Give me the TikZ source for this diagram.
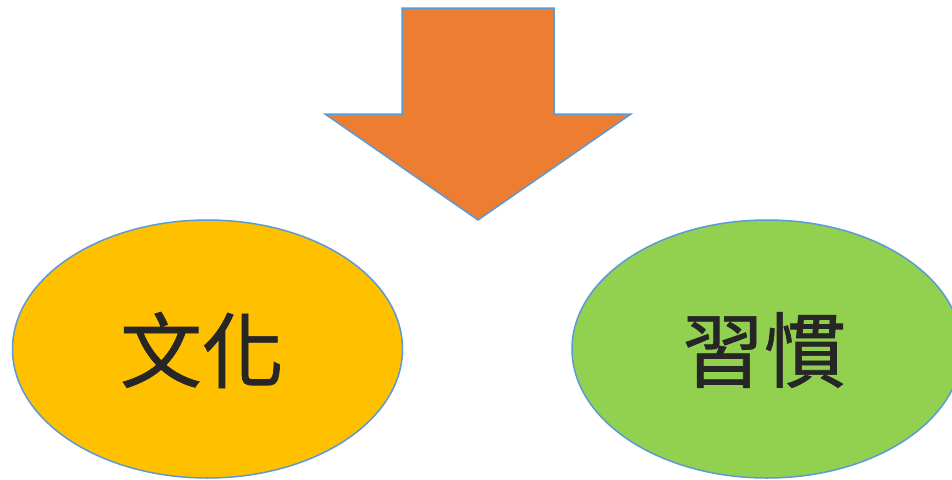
\documentclass[tikz,border=0pt]{standalone}
\usepackage{fontspec}
\newfontfamily\cjk[FakeBold=0.8]{Noto Sans CJK TC}
\usetikzlibrary{shapes.geometric}
\definecolor{arroworange}{HTML}{ED7D31}
\definecolor{edgeblue}{HTML}{5B9BD5}
\definecolor{culturegold}{HTML}{FFC000}
\definecolor{habitgreen}{HTML}{92D050}
\definecolor{textdark}{HTML}{262626}
\tikzset{
  bubble/.style={ellipse, draw=edgeblue, line width=1.5pt, minimum width=390pt, minimum height=258pt, inner sep=0pt},
  bubbletext/.style={text=textdark, font=\cjk\fontsize{82}{82}\selectfont, inner sep=0pt},
  bigarrow/.style={fill=arroworange, draw=edgeblue, line width=1.5pt, line join=miter}
}
\begin{document}
\begin{tikzpicture}[x=1pt,y=-1pt]
\path[use as bounding box, clip] (0,0) rectangle (952,479);
\fill[white] (0,0) rectangle (952,479);
\draw[bigarrow] (402,8) -- (554,8) -- (554,114) -- (631,114) -- (478,220) -- (325,114) -- (402,114) -- cycle;
\node[bubble, fill=culturegold] (culture) at (207.5,349) {};
\node[bubbletext] (culturetext) at (202,350) {文化};
\node[bubble, fill=habitgreen] (habit) at (767,349) {};
\node[bubbletext] (habittext) at (764,350) {習慣};
\end{tikzpicture}
\end{document}
